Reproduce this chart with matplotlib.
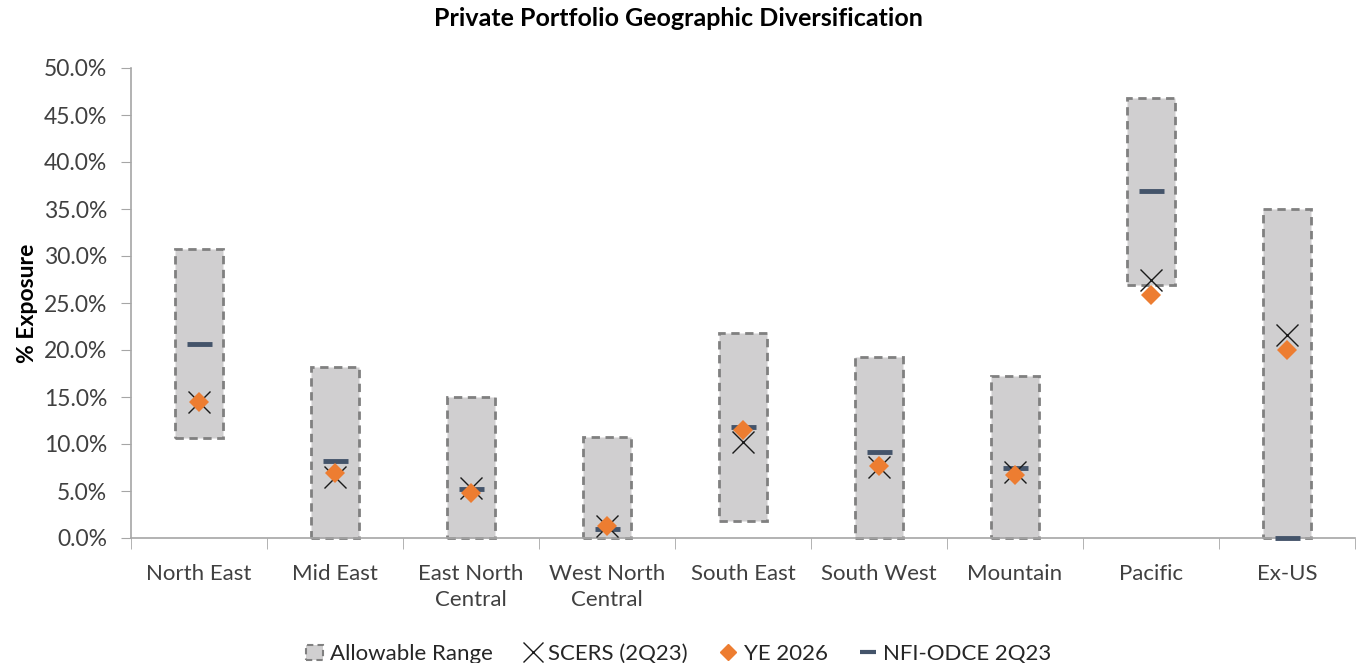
import matplotlib
matplotlib.use("Agg")
import matplotlib.pyplot as plt
from matplotlib.patches import Rectangle
from matplotlib.lines import Line2D
import numpy as np

plt.rcParams['font.family'] = ['Lato', 'DejaVu Sans']

categories = ["North East", "Mid East", "East North\nCentral", "West North\nCentral",
              "South East", "South West", "Mountain", "Pacific", "Ex-US"]
range_low = [10.6, 0.0, 0.0, 0.0, 1.8, 0.0, 0.0, 26.9, 0.0]
range_high = [30.7, 18.2, 15.0, 10.7, 21.8, 19.3, 17.2, 46.8, 35.0]
scers = [14.5, 6.5, 5.3, 1.3, 10.2, 7.6, 7.0, 27.4, 21.6]
ye2026 = [14.5, 6.9, 4.8, 1.3, 11.5, 7.7, 6.7, 25.9, 20.0]
nfi = [20.6, 8.2, 5.2, 1.0, 11.8, 9.1, 7.4, 36.9, 0.0]
yticks = [0, 5, 10, 15, 20, 25, 30, 35, 40, 45, 50]

fig = plt.figure(figsize=(13.57, 6.63), dpi=100)
ax = fig.add_axes([131/1357, (663-538)/663, (1355-131)/1357, 470/663])

x = np.arange(len(categories))
w = 0.35
for xi, lo, hi in zip(x, range_low, range_high):
    ax.add_patch(Rectangle((xi - w/2, lo), w, hi - lo, facecolor="#D0CFD0",
                           edgecolor="#808080", linewidth=2, linestyle=(0, (3, 2)),
                           zorder=2, clip_on=False))

ax.plot(x, nfi, linestyle="none", marker="_", markersize=18, markeredgewidth=3.5,
        color="#44546A", zorder=3, clip_on=False)
ax.plot(x, scers, linestyle="none", marker="x", markersize=16, markeredgewidth=1,
        color="#1a1a1a", zorder=4, clip_on=False)
ax.plot(x, ye2026, linestyle="none", marker="D", markersize=10, markeredgewidth=0,
        color="#ED7D31", zorder=5, clip_on=False)

ax.set_xlim(-0.5, len(categories) - 0.5)
ax.set_ylim(0, 50)
ax.set_yticks(yticks)
ax.set_yticklabels([f"{v:.1f}%" for v in yticks], fontsize=16.5, color="#404040")
ax.set_xticks(x)
ax.set_xticklabels(categories, fontsize=16, color="#404040", linespacing=1.35)
ax.set_xticks(np.arange(len(categories) + 1) - 0.5, minor=True)
ax.tick_params(axis="x", which="major", length=0, pad=19)
ax.tick_params(axis="x", which="minor", length=8, color="#A6A6A6", direction="out")
ax.tick_params(axis="y", length=7, color="#A6A6A6", direction="out", pad=10)
for s in ["top", "right"]:
    ax.spines[s].set_visible(False)
ax.spines["left"].set_color("#A6A6A6")
ax.spines["bottom"].set_color("#A6A6A6")
ax.spines["left"].set_linewidth(1.2)
ax.spines["bottom"].set_linewidth(1.2)

ax.set_ylabel("% Exposure", fontsize=16.5, fontweight="bold", labelpad=4)
fig.suptitle("Private Portfolio Geographic Diversification", fontsize=18,
             fontweight="bold", y=0.99)

handles = [
    Rectangle((0, 0), 1, 1, facecolor="#D0CFD0", edgecolor="#808080",
              linestyle=(0, (3, 2)), linewidth=1.5),
    Line2D([], [], linestyle="none", marker="x", markersize=14, markeredgewidth=1,
           color="#1a1a1a"),
    Line2D([], [], linestyle="none", marker="D", markersize=8, color="#ED7D31"),
    Line2D([], [], linestyle="none", marker="_", markersize=12, markeredgewidth=3,
           color="#44546A"),
]
labels = ["Allowable Range", "SCERS (2Q23)", "YE 2026", "NFI-ODCE 2Q23"]
fig.legend(handles, labels, loc="lower center", bbox_to_anchor=(0.5, -0.032), ncol=4,
           frameon=False, fontsize=16, handlelength=0.8, handletextpad=0.3,
           columnspacing=1.4, labelcolor="#262626")

fig.savefig("out.png", dpi=100)
